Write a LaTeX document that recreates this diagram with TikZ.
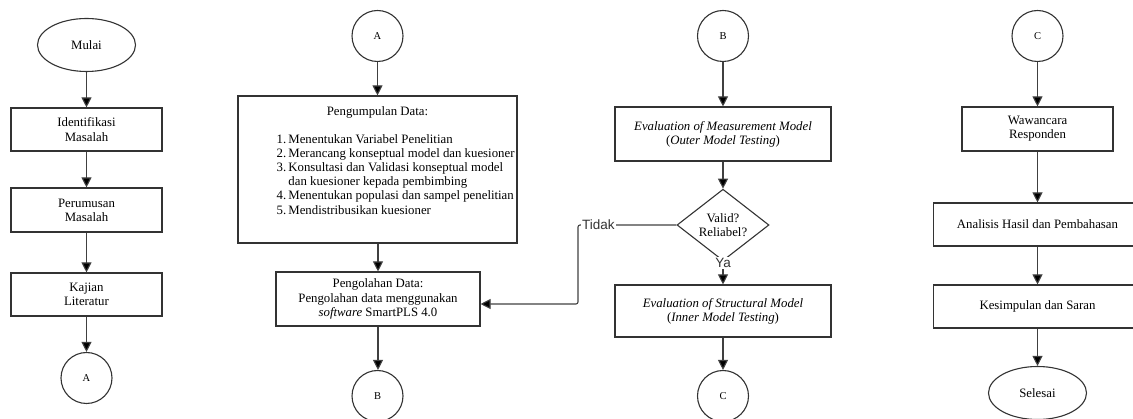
\documentclass[tikz,border=0pt]{standalone}
\usepackage{fontspec}
\setmainfont{Liberation Serif}
\newfontfamily\labfont{Liberation Sans}
\usetikzlibrary{shapes.geometric,arrows.meta}
\begin{document}
\begin{tikzpicture}[x=1pt,y=-1pt,
  every node/.style={font=\fontsize{12.8}{14.2}\selectfont, inner sep=0pt, align=center},
  box/.style={draw=black!80, line width=1.1pt, rectangle, fill=white},
  term/.style={draw=black!80, line width=1.1pt, ellipse, minimum width=98pt, minimum height=53pt},
  conn/.style={draw=black!80, line width=1.1pt, circle, minimum size=51pt, font=\fontsize{10.5}{11}\selectfont},
  dec/.style={draw=black!80, line width=1.1pt, diamond, minimum width=92pt, minimum height=58pt},
  flow/.style={draw=black!75, line width=1.1pt, -{Triangle[length=10pt,width=10pt,fill=black]}},
  lab/.style={font=\labfont\fontsize{13.5}{14}\selectfont, fill=white, inner sep=1pt, text=black!80}
]
\clip (0,0) rectangle (1133,419);
\useasboundingbox (0,0) rectangle (1133,419);
% column 1
\node[term] (mulai) at (86.5,45) {Mulai};
\node[box, minimum width=151pt, minimum height=43pt] (idm) at (86.5,129.5) {Identifikasi\\Masalah};
\node[box, minimum width=151pt, minimum height=44pt] (perm) at (86.5,210) {Perumusan\\Masalah};
\node[box, minimum width=151pt, minimum height=43pt] (kaj) at (86.5,294.5) {Kajian\\Literatur};
\node[conn] (a1) at (86.5,378) {A};
\draw[flow] (mulai) -- (idm);
\draw[flow] (idm) -- (perm);
\draw[flow] (perm) -- (kaj);
\draw[flow] (kaj) -- (a1);
% column 2
\node[conn] (a2) at (377.5,36) {A};
\node[box, minimum width=279pt, minimum height=147pt] (kumpul) at (377.5,169.5) {};
\node[anchor=north] (kumpult) at (377.5,106) {Pengumpulan Data:};
\node[anchor=north west, align=left] (kumpull) at (276.5,133) {%
\begin{tabular}{@{}l@{\,}l@{}}
1. & Menentukan Variabel Penelitian\\
2. & Merancang konseptual model dan kuesioner\\
3. & Konsultasi dan Validasi konseptual model\\
   & dan kuesioner kepada pembimbing\\
4. & Menentukan populasi dan sampel penelitian\\
5. & Mendistribusikan kuesioner
\end{tabular}};
\node[box, minimum width=204pt, minimum height=54pt] (olah) at (378,299) {Pengolahan Data:\\Pengolahan data menggunakan\\\textit{software} SmartPLS 4.0};
\node[conn] (b1) at (377.5,396) {B};
\draw[flow] (a2) -- (a2 |- kumpul.north);
\draw[flow] (kumpul.south -| olah) -- (olah);
\draw[flow] (olah) -- (olah |- b1.north);
% column 3
\node[conn] (b2) at (723,36) {B};
\node[box, minimum width=216pt, minimum height=54pt] (eval1) at (723,134) {\textit{Evaluation of Measurement Model}\\(\textit{Outer Model Testing})};
\node[dec] (valid) at (723,225) {Valid?\\Reliabel?};
\node[box, minimum width=216pt, minimum height=52pt] (eval2) at (723,311) {\textit{Evaluation of Structural Model}\\(\textit{Inner Model Testing})};
\node[conn] (c1) at (723,396) {C};
\draw[flow] (b2) -- (eval1);
\draw[flow] (eval1) -- (valid);
\draw[flow] (valid) -- (eval2);
\node[lab] (ya) at (723,263) {Ya};
\draw[flow] (eval2) -- (c1);
\coordinate (t1) at (578,225);
\coordinate (t2) at (578,304);
\draw[flow, rounded corners=2pt] (valid.west) -- (t1) -- (t2) -- (t2 -| olah.east);
\node[lab, anchor=west] (tidak) at (581,225) {Tidak};
% column 4
\node[conn] (c2) at (1037.5,36) {C};
\node[box, minimum width=151pt, minimum height=44pt] (waw) at (1037.5,129) {Wawancara\\Responden};
\node[box, minimum width=208pt, minimum height=43pt] (anal) at (1037.5,224.5) {Analisis Hasil dan Pembahasan};
\node[box, minimum width=208pt, minimum height=43pt] (kes) at (1037.5,306.5) {Kesimpulan dan Saran};
\node[term] (selesai) at (1037.5,393) {Selesai};
\draw[flow] (c2) -- (waw);
\draw[flow] (waw) -- (anal);
\draw[flow] (anal) -- (kes);
\draw[flow] (kes) -- (selesai);
\end{tikzpicture}
\end{document}
